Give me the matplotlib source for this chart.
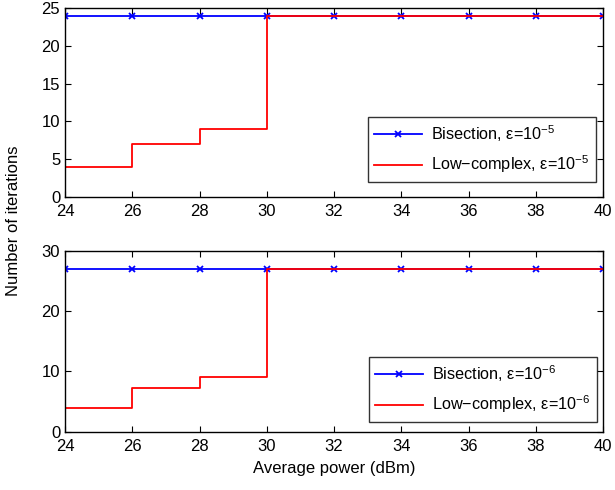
import numpy as np
import matplotlib.pyplot as plt

plt.rcParams['font.family'] = ['Liberation Sans', 'DejaVu Sans']
plt.rcParams['mathtext.fontset'] = 'custom'
plt.rcParams['mathtext.rm'] = 'Liberation Sans'

# Data
power = [24, 26, 28, 30, 32, 34, 36, 38, 40]
bisect_5 = [24, 24, 24, 24, 24, 24, 24, 24, 24]
lowc_5 = [4, 7, 9, 24, 24, 24, 24, 24, 24]
bisect_6 = [27, 27, 27, 27, 27, 27, 27, 27, 27]
lowc_6 = [4, 7.2, 9, 27, 27, 27, 27, 27, 27]

fig = plt.figure(figsize=(6.15, 4.9), dpi=100)
ax1 = fig.add_axes([0.1057, 0.598, 0.8748, 0.3857])
ax2 = fig.add_axes([0.1057, 0.119, 0.8748, 0.3688])

panels = [
    (ax1, bisect_5, lowc_5, '-5', [0, 5, 10, 15, 20, 25], 25, (0.987, 0.08)),
    (ax2, bisect_6, lowc_6, '-6', [0, 10, 20, 30], 30, (0.989, 0.054)),
]

for ax, b, l, e, yt, ymax, anchor in panels:
    ax.plot(power, b, color='blue', lw=1.3, marker='x', ms=5, mew=1.3,
            label='Bisection, ε=10$^{%s}$' % e)
    ax.step(power, l, where='post', color='red', lw=1.3,
            label='Low\u2212complex, ε=10$^{%s}$' % e)
    ax.set_xlim(24, 40)
    ax.set_ylim(0, ymax)
    ax.set_xticks(power)
    ax.set_yticks(yt)
    ax.tick_params(direction='in', labelsize=12, top=True, right=True, length=4)
    ax.tick_params(axis='x', pad=5)
    for s in ax.spines.values():
        s.set_linewidth(1.0)
    leg = ax.legend(loc='lower right', bbox_to_anchor=anchor, fontsize=11.7,
                    frameon=True, fancybox=False, edgecolor='black',
                    borderaxespad=0.0, handlelength=2.9, handletextpad=0.6,
                    labelspacing=0.6)
    leg.get_frame().set_linewidth(1.0)

ax2.set_xlabel('Average power (dBm)', fontsize=12, labelpad=5)
fig.text(0.022, 0.55, 'Number of iterations', rotation=90, fontsize=12,
         va='center', ha='center')

fig.savefig('out.png', dpi=100)
